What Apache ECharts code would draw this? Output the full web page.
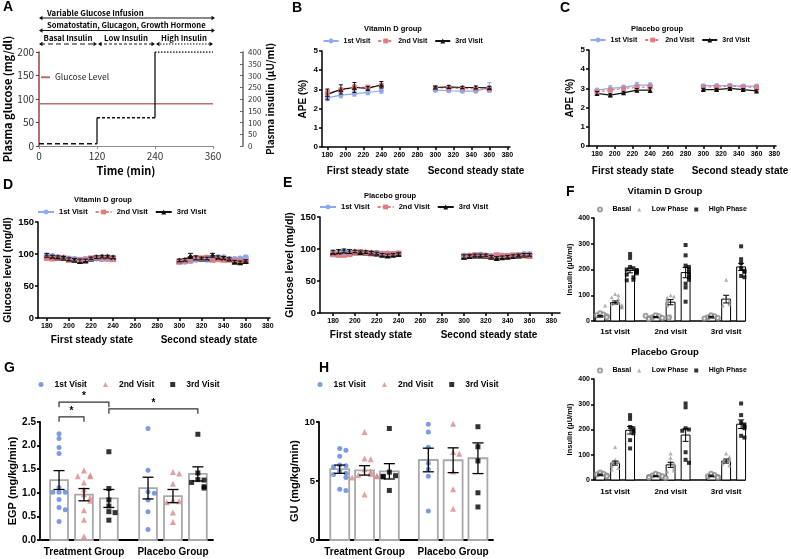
<!DOCTYPE html>
<html>
<head>
<meta charset="utf-8">
<title>Vitamin D clamp study</title>
<script src="https://cdn.jsdelivr.net/npm/echarts@6.0.0/dist/echarts.min.js"></script>
<style>
  html, body { margin: 0; padding: 0; background: #fff; }
  .panel { position: absolute; left: 0; top: 0; width: 791px; height: 559px; }
</style>
</head>
<body>
<div id="pA" class="panel"></div>
<div id="pB" class="panel"></div>
<div id="pC" class="panel"></div>
<div id="pD" class="panel"></div>
<div id="pE" class="panel"></div>
<div id="pF1" class="panel"></div>
<div id="pF2" class="panel"></div>
<div id="pG" class="panel"></div>
<div id="pH" class="panel"></div>
<script>
/*---------------- data ----------------*/

// A: clamp protocol
var clampTimes = [0, 120, 240, 360];
var clampTicks = [0, 120, 240, 360];
var glucoseTarget = 90;              // mg/dl
var insulinLevels = [10, 120, 400];  // uU/ml: basal, low, high
var phaseNames = ['Basal Insulin', 'Low Insulin', 'High Insulin'];

// B, C: APE (%)
var apeTimes = [180, 195, 210, 225, 240, 300, 315, 330, 345, 360];
var steadyTicks = [180, 200, 220, 240, 260, 280, 300, 320, 340, 360, 380];
var apeVitD1 = [2.56, 2.70, 2.77, 2.84, 2.93, 2.96, 2.93, 2.91, 2.91, 3.10];
var apeVitD1Err = [0.15, 0.14, 0.12, 0.12, 0.13, 0.08, 0.06, 0.06, 0.06, 0.25];
var apeVitD2 = [2.82, 2.96, 3.10, 3.12, 3.20, 3.10, 3.07, 3.05, 3.03, 3.00];
var apeVitD2Err = [0.15, 0.12, 0.15, 0.08, 0.12, 0.07, 0.07, 0.06, 0.06, 0.10];
var apeVitD3 = [2.74, 3.00, 3.10, 3.05, 3.24, 3.10, 3.13, 3.10, 3.10, 3.08];
var apeVitD3Err = [0.28, 0.24, 0.26, 0.10, 0.17, 0.07, 0.08, 0.06, 0.08, 0.08];
var apePla1 = [2.91, 3.00, 3.05, 3.17, 3.17, 3.14, 3.15, 3.15, 3.12, 3.12];
var apePla1Err = [0.10, 0.14, 0.12, 0.15, 0.12, 0.07, 0.06, 0.07, 0.07, 0.09];
var apePla2 = [2.82, 2.91, 3.00, 3.05, 3.08, 3.08, 3.08, 3.12, 3.08, 3.05];
var apePla2Err = [0.08, 0.08, 0.08, 0.10, 0.10, 0.06, 0.06, 0.06, 0.06, 0.06];
var apePla3 = [2.74, 2.65, 2.77, 2.91, 2.91, 2.94, 2.94, 3.00, 2.94, 2.87];
var apePla3Err = [0.10, 0.08, 0.06, 0.08, 0.12, 0.06, 0.06, 0.05, 0.05, 0.05];

// D, E: glucose level (mg/dl)
var glucTimes = [180, 185, 190, 195, 200, 205, 210, 215, 220, 225, 230, 235, 240,
                 300, 305, 310, 315, 320, 325, 330, 335, 340, 345, 350, 355, 360];
var glucVitD1 = [97, 97, 95, 94, 93, 92, 91, 92, 92, 93, 92, 92, 92, 88, 88, 89, 91, 92, 91, 93, 95, 95, 92, 92, 93, 95];
var glucVitD2 = [94, 93, 94, 94, 91, 91, 90, 91, 93, 94, 93, 93, 92, 88, 89, 90, 93, 93, 94, 91, 92, 91, 91, 90, 89, 89];
var glucVitD3 = [98, 96, 95, 94, 92, 91, 89, 90, 93, 95, 96, 96, 95, 90, 91, 97, 94, 93, 93, 98, 95, 94, 92, 88, 87, 89];
var glucVitD1Err = [3, 2, 2, 2, 2, 2, 2, 2, 2, 2, 2, 2, 2, 2, 2, 2, 2, 2, 2, 2, 2, 2, 2, 2, 2, 2];
var glucVitD2Err = [2, 2, 2, 2, 2, 2, 2, 2, 2, 2, 2, 2, 2, 2, 2, 2, 2, 2, 2, 2, 2, 2, 2, 2, 2, 2];
var glucVitD3Err = [3, 2, 2, 2, 2, 2, 3, 2, 2, 2, 2, 2, 2, 2, 2, 4, 3, 2, 2, 3, 2, 2, 2, 2, 2, 2];
var glucPla1 = [92, 92, 93, 94, 95, 95, 94, 94, 94, 93, 93, 92, 92, 90, 90, 90, 91, 90, 89, 90, 90, 89, 89, 90, 92, 92];
var glucPla2 = [92, 91, 91, 92, 94, 95, 94, 93, 93, 92, 92, 92, 93, 88, 89, 90, 90, 89, 88, 90, 89, 89, 90, 90, 90, 89];
var glucPla3 = [95, 96, 97, 96, 96, 95, 95, 94, 93, 91, 90, 91, 92, 88, 89, 90, 90, 90, 88, 86, 87, 88, 89, 90, 91, 91];
var glucPla1Err = [4, 4, 3, 3, 2, 2, 2, 2, 2, 2, 2, 2, 2, 2, 2, 2, 2, 2, 2, 2, 2, 2, 2, 2, 2, 2];
var glucPla2Err = [3, 3, 3, 2, 2, 2, 2, 2, 2, 2, 2, 2, 2, 2, 2, 2, 2, 2, 2, 2, 2, 2, 2, 2, 2, 2];
var glucPla3Err = [3, 3, 3, 3, 2, 2, 2, 2, 2, 2, 2, 2, 2, 3, 2, 2, 2, 2, 2, 2, 2, 2, 2, 2, 2, 2];

// F: insulin (uU/ml), per visit: basal, low, high phase
var visitNames = ['1st visit', '2nd visit', '3rd visit'];
var vdBasal1 = [30, 25, 22, 18, 15, 12, 10, 8, 20, 14];
var vdLow1 = [105, 100, 92, 85, 75, 70, 66, 62, 58, 55, 52, 60];
var vdHigh1 = [260, 245, 210, 205, 200, 198, 195, 190, 185, 180, 170, 160, 158];
var vdBasal2 = [22, 18, 15, 12, 10, 8, 20, 14];
var vdLow2 = [100, 95, 90, 85, 80, 75, 70, 65, 60, 20];
var vdHigh2 = [295, 255, 215, 210, 200, 190, 180, 170, 160, 145, 130, 75];
var vdBasal3 = [22, 18, 15, 12, 10];
var vdLow3 = [160, 90, 80, 70, 65, 60];
var vdHigh3 = [290, 240, 225, 205, 195, 190, 175, 170];
var vdInsMean = [18, 72, 196, 15, 73, 188, 15, 85, 210];
var vdInsSem = [3, 6, 9, 2, 10, 20, 3, 15, 14];
var plBasal1 = [30, 25, 22, 18, 15, 12, 10];
var plLow1 = [131, 80, 72, 68, 62, 55, 48, 42];
var plHigh1 = [257, 242, 210, 205, 195, 185, 158, 125];
var plBasal2 = [25, 20, 18, 15, 12, 10, 8];
var plLow2 = [105, 88, 72, 65, 57, 46, 38, 33];
var plHigh2 = [303, 288, 205, 200, 195, 110, 80, 68];
var plBasal3 = [25, 20, 15, 12, 10];
var plLow3 = [105, 92, 85, 78, 72, 65, 58];
var plHigh3 = [303, 257, 228, 220, 210, 205, 175, 168];
var plInsMean = [20, 67, 197, 15, 60, 178, 16, 75, 221];
var plInsSem = [3, 8, 15, 2, 10, 25, 3, 8, 17];

// G: EGP (mg/kg/min), H: GU (mg/kg/min)
var groupNames = ['Treatment Group', 'Placebo Group'];
var egpT1 = [2.25, 2.15, 1.96, 1.83, 1.11, 1.01, 1.01, 1.01, 0.86, 0.69, 0.64, 0.39];
var egpT2 = [1.47, 1.37, 1.35, 1.35, 1.22, 1.07, 0.97, 0.90, 0.83, 0.63, 0.43, 0.08];
var egpT3 = [1.87, 1.09, 0.85, 0.72, 0.60, 0.58, 0.42];
var egpP1 = [2.36, 1.48, 1.02, 0.99, 0.85, 0.60, 0.22];
var egpP2 = [1.44, 1.41, 1.19, 0.85, 0.82, 0.80, 0.58, 0.38];
var egpP3 = [2.24, 1.42, 1.28, 1.27, 1.22, 1.13, 1.10];
var egpMean = [1.27, 0.96, 0.88, 1.10, 0.93, 1.40];
var egpSem = [0.20, 0.13, 0.19, 0.23, 0.14, 0.15];
var guT1 = [7.75, 7.6, 7.1, 6.35, 6.3, 6.2, 5.8, 5.65, 5.55, 5.3, 4.3, 4.2];
var guT2 = [9.15, 6.9, 6.85, 6.0, 5.8, 5.6, 5.5, 5.45, 5.4, 5.3, 3.85];
var guT3 = [9.45, 5.75, 5.45, 5.4, 5.35, 4.2];
var guP1 = [9.8, 9.15, 7.85, 6.5, 6.0, 5.4, 2.45];
var guP2 = [9.85, 7.45, 7.3, 5.8, 4.3, 2.65];
var guP3 = [9.6, 7.9, 6.7, 4.0, 2.8];
var guMean = [6.0, 5.9, 5.82, 6.78, 6.76, 6.93];
var guSem = [0.35, 0.4, 0.65, 1.0, 1.05, 1.3];

/*---------------- helpers ----------------*/
var FONT = '"Liberation Sans", Arial, sans-serif';
var KFONT = '"Noto Sans CJK KR", "Liberation Sans", sans-serif';
var BLUE = '#8fa9f1', RED = '#e27b7b', BLACK = '#111111';
var DOT_BLUE = '#5b82dc', DOT_RED = '#db8a8a', BROWN = '#b4716f';
var VISITS = ['1st Visit', '2nd Visit', '3rd Visit'];

function txt(x, y, s, size, o) {
  o = o || {};
  return {type: 'text', x: x, y: y, rotation: o.rot || 0, silent: true,
    style: {text: s, fontFamily: o.font || FONT, fontSize: size, fontWeight: o.weight || 'bold',
      fill: o.color || '#000', align: o.align || 'left', verticalAlign: o.va || 'middle'}};
}

function gpAxis(o) {
  var ax = {
    type: 'value', min: o.min, max: o.max, interval: o.interval,
    name: o.name || '', nameLocation: 'middle', nameGap: o.nameGap || 20,
    nameTextStyle: {fontFamily: FONT, fontWeight: 'bold', fontSize: o.nameSize || 10, color: '#000'},
    axisLine: {show: true, onZero: false, lineStyle: {color: '#000', width: o.lw || 1.5}},
    axisTick: {show: o.ticks !== false, length: 3, lineStyle: {color: '#000', width: o.lw || 1.5}},
    axisLabel: {fontFamily: FONT, fontWeight: 'bold', fontSize: o.size || 7, color: '#000', margin: o.margin || 4},
    splitLine: {show: false}
  };
  if (o.custom) {
    ax.axisLabel.customValues = o.custom;
    ax.axisTick.customValues = o.custom;
  }
  if (o.formatter) ax.axisLabel.formatter = o.formatter;
  return ax;
}

function errSeries(xs, means, errs, color, cap, lw) {
  return {
    type: 'custom', silent: true, z: 4,
    encode: {x: 0, y: [1, 2]},
    data: xs.map(function (x, i) { return [x, means[i] - errs[i], means[i] + errs[i]]; }),
    renderItem: function (p, api) {
      var lo = api.coord([api.value(0), api.value(1)]);
      var hi = api.coord([api.value(0), api.value(2)]);
      var st = {stroke: color, lineWidth: lw || 1.2, fill: null};
      return {type: 'group', children: [
        {type: 'line', shape: {x1: lo[0], y1: lo[1], x2: hi[0], y2: hi[1]}, style: st},
        {type: 'line', shape: {x1: lo[0] - cap, y1: lo[1], x2: lo[0] + cap, y2: lo[1]}, style: st},
        {type: 'line', shape: {x1: hi[0] - cap, y1: hi[1], x2: hi[0] + cap, y2: hi[1]}, style: st}
      ]};
    }
  };
}

// break the line between the two steady states
function withGap(times, vals) {
  var out = [];
  times.forEach(function (t, i) {
    if (i > 0 && t - times[i - 1] > 30) out.push([(t + times[i - 1]) / 2, '-']);
    out.push([t, vals[i]]);
  });
  return out;
}

function visit(name, times, vals, errs, color, sym, dashed, sz, lw, cap) {
  return [{
    name: name, type: 'line', data: withGap(times, vals), symbol: sym, symbolSize: sz,
    connectNulls: false, z: 3,
    itemStyle: {color: color},
    lineStyle: {color: color, width: lw, type: dashed ? [3, 2] : 'solid'}
  }, errSeries(times, vals, errs, color, cap, 1)];
}

function visitLegend(left, top, size, iw, gap) {
  return {left: left, top: top, padding: 0, itemGap: gap, itemWidth: iw, itemHeight: 6,
    data: VISITS,
    textStyle: {fontFamily: FONT, fontWeight: 'bold', fontSize: size, color: '#000'}};
}

function barsSeries(xs, means, halfW, stroke, lw) {
  return {
    type: 'custom', silent: true, z: 1,
    encode: {x: 0, y: 1},
    data: xs.map(function (x, i) { return [x, means[i]]; }),
    renderItem: function (p, api) {
      var a = api.coord([api.value(0) - halfW, api.value(1)]);
      var b = api.coord([api.value(0) + halfW, 0]);
      return {type: 'rect', shape: {x: a[0], y: a[1], width: b[0] - a[0], height: b[1] - a[1]},
        style: {fill: '#fff', stroke: stroke, lineWidth: lw}};
    }
  };
}

// spread points that share a value sideways
function swarm(x, vals, tol, step) {
  var placed = [];
  return vals.map(function (v) {
    var k = placed.filter(function (p) { return Math.abs(p - v) < tol; }).length;
    placed.push(v);
    var off = k === 0 ? 0 : (k % 2 ? 1 : -1) * Math.ceil(k / 2) * step;
    return [x + off, v];
  });
}

// groups[g][b] = list of values; means/sems in group-major order
function dotBars(groups, means, sems, cfg) {
  var xs = [];
  groups.forEach(function (bars, g) {
    bars.forEach(function (vals, b) { xs.push(g + 1 + (b - 1) * cfg.spacing); });
  });
  var series = [barsSeries(xs, means, cfg.halfW, cfg.stroke, cfg.barLw)];
  cfg.kinds.forEach(function (k, b) {
    var data = [];
    groups.forEach(function (bars, g) {
      data = data.concat(swarm(g + 1 + (b - 1) * cfg.spacing, bars[b], cfg.tol, cfg.step));
    });
    series.push({name: k.name, type: 'scatter', data: data, symbol: k.symbol, symbolSize: k.size,
      itemStyle: k.style, z: 3, silent: true});
  });
  series.push(errSeries(xs, means, sems, '#000', cfg.cap, cfg.errLw));
  return series;
}

// square icon box so markers keep their shape; text pushed right by padding
function dotLegend(left, top, names, size, gap, icon, pad) {
  return {left: left, top: top, padding: 0, itemGap: gap, itemWidth: icon, itemHeight: icon,
    data: names,
    textStyle: {fontFamily: FONT, fontWeight: 'bold', fontSize: size, color: '#000', padding: [0, 0, 0, pad]}};
}

function mk(id, opt) {
  var c = echarts.init(document.getElementById(id), null, {renderer: 'canvas'});
  c.setOption(opt);
  return c;
}

/*---------------- A: clamp protocol ----------------*/
(function () {
  var series = [{
    name: 'Glucose Level', type: 'line', yAxisIndex: 0, symbol: 'none', silent: true,
    data: [[clampTimes[0], glucoseTarget], [clampTimes[clampTimes.length - 1], glucoseTarget]],
    lineStyle: {color: BROWN, width: 1.6}, itemStyle: {color: BROWN}
  }];
  var dashes = [[5, 3], [3, 2], [1.5, 1.5]];
  insulinLevels.forEach(function (lvl, i) {
    series.push({type: 'line', yAxisIndex: 1, symbol: 'none', silent: true,
      data: [[clampTimes[i], lvl], [clampTimes[i + 1], lvl]],
      lineStyle: {color: '#111', width: 1.5, type: dashes[i]}});
    if (i > 0) series.push({type: 'line', yAxisIndex: 1, symbol: 'none', silent: true,
      data: [[clampTimes[i], insulinLevels[i - 1]], [clampTimes[i], lvl]],
      lineStyle: {color: '#111', width: 1.3}});
  });
  var chart = mk('pA', {
    animation: false,
    grid: {left: 39, top: 52, width: 174, height: 94},
    legend: {left: 40, top: 73, padding: 0, itemWidth: 9, itemHeight: 2, data: ['Glucose Level'],
      textStyle: {fontFamily: KFONT, fontSize: 8.5, color: '#222'}},
    xAxis: {type: 'value', min: 0, max: 360, interval: 120,
      name: 'Time (min)', nameLocation: 'middle', nameGap: 19,
      nameTextStyle: {fontFamily: KFONT, fontWeight: 'bold', fontSize: 11, color: '#000'},
      axisLine: {lineStyle: {color: '#8c8c8c', width: 1.2}},
      axisTick: {length: 3, lineStyle: {color: '#8c8c8c'}},
      axisLabel: {fontFamily: KFONT, fontSize: 10, color: '#333', margin: 5,
        customValues: clampTicks},
      splitLine: {show: false}},
    yAxis: [
      {type: 'value', min: 0, max: 200, interval: 50,
        name: 'Plasma glucose (mg/dl)', nameLocation: 'middle', nameGap: 24,
        nameTextStyle: {fontFamily: KFONT, fontWeight: 'bold', fontSize: 11, color: '#000'},
        axisLine: {show: true, lineStyle: {color: BROWN, width: 2}},
        axisTick: {show: true, length: 3, lineStyle: {color: '#444'}},
        axisLabel: {fontFamily: KFONT, fontSize: 10, color: '#333', margin: 5},
        splitLine: {show: false}},
      {type: 'value', min: 0, max: 400, interval: 50, position: 'right', offset: 30,
        name: 'Plasma insulin (\u00b5U/ml)', nameLocation: 'middle', nameGap: 20,
        nameTextStyle: {fontFamily: KFONT, fontWeight: 'bold', fontSize: 10, color: '#000'},
        axisLine: {show: true, lineStyle: {color: '#8c8c8c', width: 2}},
        axisTick: {show: true, inside: true, length: 3, lineStyle: {color: '#666'}},
        axisLabel: {fontFamily: KFONT, fontSize: 8, color: '#333', margin: 5},
        splitLine: {show: false}}
    ],
    series: series
  });

  // protocol annotations above the plot, placed on the time scale
  function px(t) { return chart.convertToPixel({xAxisIndex: 0}, t); }
  function arrow(x1, x2, y, dash) {
    var h = 3.5, w = 2.2;
    return [
      {type: 'line', silent: true, shape: {x1: x1 + 1, y1: y, x2: x2 - 1, y2: y},
        style: {stroke: '#111', lineWidth: 1.1, lineDash: dash || null}},
      {type: 'polygon', silent: true, shape: {points: [[x1, y], [x1 + h, y - w], [x1 + h, y + w]]}, style: {fill: '#111'}},
      {type: 'polygon', silent: true, shape: {points: [[x2, y], [x2 - h, y - w], [x2 - h, y + w]]}, style: {fill: '#111'}}
    ];
  }
  var t0 = clampTimes[0], tEnd = clampTimes[clampTimes.length - 1];
  var els = [txt(3, 7, 'A', 14)];
  els.push(txt(px(t0) + 8, 13, 'Variable Glucose Infusion', 7.8, {font: KFONT}));
  els = els.concat(arrow(px(t0), px(tEnd) + 2, 18));
  els.push(txt(px(t0) + 8, 25.5, 'Somatostatin, Glucagon, Growth Hormone', 7.6, {font: KFONT}));
  els = els.concat(arrow(px(t0), px(tEnd) + 2, 30.5));
  phaseNames.forEach(function (n, i) {
    var a = px(clampTimes[i]), b = px(clampTimes[i + 1]);
    els.push(txt((a + b) / 2, 38, n, 7.8, {font: KFONT, align: 'center'}));
    els = els.concat(arrow(a + (i ? 1 : 0), b, 44, dashes[i]));
  });
  chart.setOption({graphic: {elements: els}});
})();

/*---------------- B, C: APE ----------------*/
function apeChart(id, o) {
  var series = [].concat(
    visit(VISITS[0], apeTimes, o.v1, o.e1, BLUE, 'circle', false, 5, 1.2, 2),
    visit(VISITS[1], apeTimes, o.v2, o.e2, RED, 'rect', true, 5, 1.2, 2),
    visit(VISITS[2], apeTimes, o.v3, o.e3, BLACK, 'triangle', false, 5, 1.2, 2)
  );
  mk(id, {
    animation: false,
    grid: {left: o.left, top: o.top, width: o.width, height: 96},
    legend: visitLegend(o.left + 0.5, o.top - 13.5, 7, 15, 7),
    xAxis: gpAxis({min: o.min, max: o.max, custom: steadyTicks, size: 7, margin: 5}),
    yAxis: gpAxis({min: 0, max: 5, interval: 1, size: 8, name: 'APE (%)', nameGap: 14, nameSize: 10}),
    series: series,
    graphic: {elements: [
      txt(o.letterX, 8, o.letter, 14),
      txt(o.titleX, 29, o.title, 7.5, {align: 'center'}),
      txt(o.firstX, 171, 'First steady state', 10, {align: 'center'}),
      txt(o.secondX, 171, 'Second steady state', 10, {align: 'center'})
    ]}
  });
}
apeChart('pB', {left: 322, top: 51, width: 188, min: 174, max: 383,
  v1: apeVitD1, e1: apeVitD1Err, v2: apeVitD2, e2: apeVitD2Err, v3: apeVitD3, e3: apeVitD3Err,
  letter: 'B', letterX: 292, title: 'Vitamin D group', titleX: 393, firstX: 368, secondX: 476});
apeChart('pC', {left: 589, top: 50, width: 187, min: 171, max: 382,
  v1: apePla1, e1: apePla1Err, v2: apePla2, e2: apePla2Err, v3: apePla3, e3: apePla3Err,
  letter: 'C', letterX: 560, title: 'Placebo group', titleX: 657, firstX: 633, secondX: 740});

/*---------------- D, E: glucose ----------------*/
function glucChart(id, o) {
  var series = [].concat(
    visit(VISITS[0], glucTimes, o.v1, o.e1, BLUE, 'circle', false, 6, 2, 2.5),
    visit(VISITS[1], glucTimes, o.v2, o.e2, RED, 'rect', true, 6, 2, 2.5),
    visit(VISITS[2], glucTimes, o.v3, o.e3, BLACK, 'triangle', false, 6, 1.6, 2.5)
  );
  mk(id, {
    animation: false,
    grid: {left: o.left, top: o.top, width: o.width, height: 96},
    legend: visitLegend(o.left - 1, o.top - 14, 7.5, 16, 7),
    xAxis: gpAxis({min: o.min, max: o.max, custom: steadyTicks, size: 7, margin: 5}),
    yAxis: gpAxis({min: 0, max: 150, interval: 50, size: 9.5, name: 'Glucose level (mg/dl)',
      nameGap: 24, nameSize: 10.5}),
    series: series,
    graphic: {elements: [
      txt(o.letterX, o.letterY, o.letter, 14),
      txt(o.titleX, o.titleY, o.title, 7.5, {align: 'center'}),
      txt(o.firstX, o.labelY, 'First steady state', 10, {align: 'center'}),
      txt(o.secondX, o.labelY, 'Second steady state', 10, {align: 'center'})
    ]}
  });
}
glucChart('pD', {left: 38, top: 222, width: 232, min: 172, max: 382,
  v1: glucVitD1, e1: glucVitD1Err, v2: glucVitD2, e2: glucVitD2Err, v3: glucVitD3, e3: glucVitD3Err,
  letter: 'D', letterX: 3, letterY: 185, title: 'Vitamin D group', titleX: 103, titleY: 200,
  firstX: 92, secondX: 209, labelY: 340});
glucChart('pE', {left: 320, top: 217, width: 240, min: 168, max: 388,
  v1: glucPla1, e1: glucPla1Err, v2: glucPla2, e2: glucPla2Err, v3: glucPla3, e3: glucPla3Err,
  letter: 'E', letterX: 283, letterY: 183, title: 'Placebo group', titleX: 390, titleY: 196,
  firstX: 371, secondX: 489, labelY: 335});

/*---------------- F: insulin by phase ----------------*/
var phaseKinds = [
  {name: 'Basal', symbol: 'emptyCircle', size: 4, style: {color: '#888', borderWidth: 0.8}},
  {name: 'Low Phase', symbol: 'triangle', size: 4, style: {color: '#9c9c9c'}},
  {name: 'High Phase', symbol: 'rect', size: 4, style: {color: '#000'}}
];
function insulinChart(id, o) {
  var series = dotBars(o.groups, o.mean, o.sem, {
    spacing: 0.27, halfW: 0.08, stroke: '#000', barLw: 1, tol: 14, step: 0.06,
    cap: 3, errLw: 1, kinds: phaseKinds
  });
  var els = [txt(665, o.top - 27, o.title, 9.5, {align: 'center'})];
  if (o.letter) els.push(txt(566, 192, o.letter, 14));
  mk(id, {
    animation: false,
    grid: {left: 594, top: o.top, width: 151, height: o.height},
    legend: dotLegend(597, o.top - 12, phaseKinds.map(function (k) { return k.name; }), 7, 6, 4, 5.5),
    xAxis: gpAxis({min: 0.62, max: 3.34, custom: [1, 2, 3], ticks: false, size: 8, margin: o.margin,
      formatter: function (v) { return visitNames[Math.round(v) - 1]; }}),
    yAxis: gpAxis({min: 0, max: 400, interval: 100, size: 7, name: 'Insulin (\u00b5U/ml)',
      nameGap: 19, nameSize: 7.5}),
    series: series,
    graphic: {elements: els}
  });
}
insulinChart('pF1', {top: 218, height: 103, margin: 7, title: 'Vitamin D Group', letter: 'F',
  groups: [[vdBasal1, vdLow1, vdHigh1], [vdBasal2, vdLow2, vdHigh2], [vdBasal3, vdLow3, vdHigh3]],
  mean: vdInsMean, sem: vdInsSem});
insulinChart('pF2', {top: 379, height: 101, margin: 8, title: 'Placebo Group',
  groups: [[plBasal1, plLow1, plHigh1], [plBasal2, plLow2, plHigh2], [plBasal3, plLow3, plHigh3]],
  mean: plInsMean, sem: plInsSem});

/*---------------- G, H: EGP and GU ----------------*/
var visitKinds = [
  {name: VISITS[0], symbol: 'circle', size: 5, style: {color: DOT_BLUE}},
  {name: VISITS[1], symbol: 'triangle', size: 6, style: {color: DOT_RED}},
  {name: VISITS[2], symbol: 'rect', size: 5, style: {color: '#000'}}
];
// significance brackets: [x from, x to, height] on the panel's scales, star on top
function sigSeries(pairs) {
  return {
    type: 'custom', silent: true, z: 5, clip: false,
    encode: {x: [0, 1], y: 2},
    data: pairs,
    renderItem: function (p, api) {
      var a = api.coord([api.value(0), api.value(2)]);
      var b = api.coord([api.value(1), api.value(2)]);
      var st = {stroke: '#333', lineWidth: 1.2, fill: null};
      return {type: 'group', children: [
        {type: 'polyline', shape: {points: [[a[0], a[1] + 5], [a[0], a[1]], [b[0], b[1]], [b[0], b[1] + 5]]}, style: st},
        {type: 'text', style: {text: '*', x: (a[0] + b[0]) / 2, y: a[1] - 1, align: 'center', verticalAlign: 'bottom',
          fontFamily: FONT, fontWeight: 'bold', fontSize: 10, fill: '#000'}}
      ]};
    }
  };
}
function visitBarChart(id, o) {
  var series = dotBars(o.groups, o.mean, o.sem, {
    spacing: 0.28, halfW: o.halfW, stroke: '#a9a9a9', barLw: 1.8, tol: o.tol, step: 0.07,
    cap: 5.5, errLw: 1.3, kinds: visitKinds
  });
  if (o.sig) series.push(sigSeries(o.sig));
  mk(id, {
    animation: false,
    grid: {left: o.left, top: 422, width: o.width, height: 118},
    legend: dotLegend(o.left - 1.5, 380, VISITS, 8.5, 16, 5, 6),
    xAxis: gpAxis({min: o.min, max: o.max, custom: [1, 2], ticks: false, size: 10, margin: 7, lw: 1.8,
      formatter: function (v) { return groupNames[Math.round(v) - 1]; }}),
    yAxis: gpAxis({min: 0, max: o.ymax, interval: o.step, size: o.labelSize, lw: 1.8,
      name: o.name, nameGap: o.nameGap, nameSize: 11, formatter: o.fmt}),
    series: series,
    graphic: {elements: [txt(o.letterX, 368, o.letter, 14)]}
  });
}
visitBarChart('pG', {left: 40, width: 173, min: 0.506, max: 2.45, ymax: 2.5, step: 0.5, halfW: 0.1,
  tol: 0.1, labelSize: 10, name: 'EGP (mg/kg/min)', nameGap: 21, letter: 'G', letterX: 4,
  fmt: function (v) { return v.toFixed(1); },
  groups: [[egpT1, egpT2, egpT3], [egpP1, egpP2, egpP3]], mean: egpMean, sem: egpSem,
  sig: [[0.72, 1.28, 2.92], [0.72, 1.0, 2.61], [1.28, 2.28, 2.78]]});
visitBarChart('pH', {left: 319, width: 174, min: 0.486, max: 2.45, ymax: 10, step: 5, halfW: 0.107,
  tol: 0.35, labelSize: 9.5, name: 'GU (mg/kg/min)', nameGap: 18, letter: 'H', letterX: 319,
  groups: [[guT1, guT2, guT3], [guP1, guP2, guP3]], mean: guMean, sem: guSem});
</script>
</body>
</html>
